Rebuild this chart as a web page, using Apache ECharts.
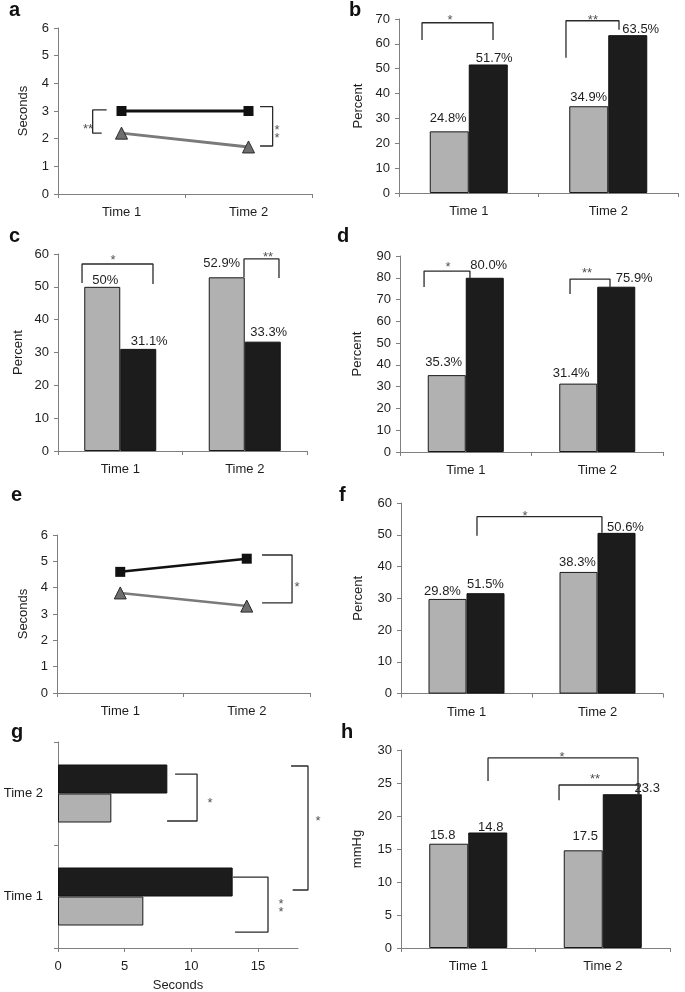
<!DOCTYPE html>
<html><head><meta charset="utf-8">
<script src="https://cdn.jsdelivr.net/npm/echarts@6/dist/echarts.min.js"></script>
<style>html,body{margin:0;padding:0;background:#fff}#c{width:685px;height:992px}</style>
</head><body><div id="c"></div>
<script>
// ---------- data ----------
const categories = ['Time 1', 'Time 2'];

// a
const aSquare = [3.0, 3.0];
const aTriangle = [2.2, 1.7];
const aBrackets = [
  [[0.383, 3.04], [0.273, 3.04], [0.273, 2.2], [0.344, 2.2]],
  [[1.591, 3.155], [1.69, 3.155], [1.69, 1.735], [1.591, 1.735]]
];
const aStars = [[0.236, 2.49, '**'], [1.724, 2.31, '*\n*']];

// b
const bGray = [24.8, 34.9];
const bBlack = [51.7, 63.5];
const bGrayText = ['24.8%', '34.9%'];
const bBlackText = ['51.7%', '63.5%'];
const bBrackets = [
  [[0.165, 61.6], [0.165, 68.5], [0.674, 68.5], [0.674, 61.6]],
  [[1.197, 54.4], [1.197, 69.3], [1.577, 69.3], [1.577, 65.7]]
];
const bStars = [[0.366, 70.9, '*'], [1.39, 70.9, '**']];

// c
const cGray = [50.0, 52.9];
const cBlack = [31.1, 33.3];
const cGrayText = ['50%', '52.9%'];
const cBlackText = ['31.1%', '33.3%'];
const cBrackets = [
  [[0.193, 51.2], [0.193, 56.96], [0.763, 56.96], [0.763, 50.9]],
  [[1.494, 53.0], [1.494, 58.5], [1.775, 58.5], [1.775, 52.7]]
];
const cStars = [[0.442, 59.3, '*'], [1.687, 60.2, '**']];

// d
const dGray = [35.3, 31.4];
const dBlack = [80.0, 75.9];
const dGrayText = ['35.3%', '31.4%'];
const dBlackText = ['80.0%', '75.9%'];
const dBrackets = [
  [[0.183, 75.8], [0.183, 83.1], [0.532, 83.1], [0.532, 79.9]],
  [[1.293, 72.5], [1.293, 79.4], [1.597, 79.4], [1.597, 75.8]]
];
const dStars = [[0.365, 86.8, '*'], [1.422, 84.0, '**']];

// e
const eSquare = [4.6, 5.1];
const eTriangle = [3.8, 3.3];
const eBrackets = [
  [[1.621, 5.24], [1.858, 5.24], [1.858, 3.42], [1.621, 3.42]]
];
const eStars = [[1.897, 4.18, '*']];

// f
const fGray = [29.8, 38.3];
const fBlack = [31.6, 50.6];
const fGrayText = ['29.8%', '38.3%'];
const fBlackText = ['51.5%', '50.6%'];
const fBrackets = [
  [[0.58, 49.7], [0.58, 55.7], [1.534, 55.7], [1.534, 50.6]]
];
const fStars = [[0.947, 56.9, '*']];

// g (horizontal)
const gGray = [6.4, 4.0];
const gBlack = [13.1, 8.2];
const gBrackets = [
  [[8.78, 1.689], [10.43, 1.689], [10.43, 1.233], [8.18, 1.233]],
  [[13.13, 0.689], [15.75, 0.689], [15.75, 0.155], [13.28, 0.155]],
  [[17.48, 1.767], [18.75, 1.767], [18.75, 0.563], [17.6, 0.563]]
];
const gStars = [[11.4, 1.447, '*'], [16.73, 0.42, '*\n*'], [19.5, 1.27, '*']];

// h
const hGray = [15.8, 14.8];
const hBlack = [17.5, 23.3];
const hGrayText = ['15.8', '17.5'];
const hBlackText = ['14.8', '23.3'];
const hBrackets = [
  [[0.647, 25.3], [0.647, 28.8], [1.762, 28.8], [1.762, 23.3]],
  [[1.175, 22.4], [1.175, 24.7], [1.77, 24.7], [1.77, 23.3]]
];
const hStars = [[1.197, 29.5, '*'], [1.442, 26.2, '**']];

// ---------- label nudges (style) ----------
const bGrayShift = [[-1, -1], [0, 3]], bBlackShift = [[6, 5], [13, 6]];
const cGrayShift = [[3, 5], [-5, -2]], cBlackShift = [[11, 4], [6, 2]];
const dGrayShift = [[-3, -1], [-7, 1]], dBlackShift = [[4, -1], [18, 3]];
const fGrayShift = [[-5, 4], [-1, 2]], fBlackShift = [[0, 3], [9, 6]];
const hGrayShift = [[-6, 3], [2, -2]], hBlackShift = [[3, 6], [25, 6]];

// ---------- styles ----------
const FONT = 'Liberation Sans, Arial, Helvetica, sans-serif';
const AX = '#7f7f7f';
const TXT = '#1e1e1e';
const GRAY = '#b1b1b1';
const BLACK = '#1c1c1c';

const grids = [], xAxes = [], yAxes = [], series = [];

function axisBase() {
  return {
    axisLine: { show: true, lineStyle: { color: AX, width: 1 } },
    axisTick: { show: true, length: 4, lineStyle: { color: AX, width: 1 } },
    axisLabel: { color: TXT, fontSize: 13, fontFamily: FONT },
    splitLine: { show: false }
  };
}
function valueAxis(gi, max, interval, name, nameGap, extra) {
  const a = Object.assign(axisBase(), {
    type: 'value', gridIndex: gi, min: 0, max: max, interval: interval,
    name: name, nameLocation: 'middle', nameGap: nameGap,
    nameTextStyle: { color: TXT, fontSize: 13, fontFamily: FONT }
  });
  a.axisLabel.margin = 9;
  return Object.assign(a, extra || {});
}
function catAxis(gi, extra) {
  const a = Object.assign(axisBase(), { type: 'category', gridIndex: gi, data: categories });
  a.axisLabel.margin = 12;
  return Object.assign(a, extra || {});
}
function addBrackets(xi, yi, brackets, stars) {
  brackets.forEach(b => series.push({
    type: 'line', xAxisIndex: xi, yAxisIndex: yi, data: b, symbol: 'none',
    lineStyle: { color: '#2a2a2a', width: 1.3 }, clip: false, silent: true, z: 10
  }));
  series.push({
    type: 'scatter', xAxisIndex: xi, yAxisIndex: yi, symbolSize: 0, clip: false, silent: true, z: 11,
    itemStyle: { color: 'transparent' },
    data: stars.map(s => ({ value: [s[0], s[1]], label: { formatter: s[2] } })),
    label: { show: true, position: 'inside', color: TXT, fontSize: 13, fontFamily: FONT, offset: [0, 4], lineHeight: 8 }
  });
}
function barItems(vals, texts, shifts) {
  return vals.map((v, i) => ({ value: v, label: { formatter: texts[i], offset: shifts[i] } }));
}
function barPanel(grid, yMax, yInt, yName, nameGap, gray, black, gt, bt, gs, bs, barW, brackets, stars) {
  grids.push(Object.assign({ containLabel: false, outerBoundsMode: 'none' }, grid));
  const gi = grids.length - 1;
  xAxes.push(catAxis(gi));
  const xi = xAxes.length - 1;
  xAxes.push({ type: 'value', gridIndex: gi, min: 0, max: 2, show: false });
  const hx = xAxes.length - 1;
  yAxes.push(valueAxis(gi, yMax, yInt, yName, nameGap));
  const yi = yAxes.length - 1;
  const lab = { show: true, position: 'top', distance: 5, color: TXT, fontSize: 13, fontFamily: FONT };
  series.push({ type: 'bar', xAxisIndex: xi, yAxisIndex: yi, barWidth: barW, barGap: '0%',
    itemStyle: { color: GRAY, borderColor: '#1a1a1a', borderWidth: 1 }, label: lab,
    data: barItems(gray, gt, gs) });
  series.push({ type: 'bar', xAxisIndex: xi, yAxisIndex: yi, barWidth: barW, barGap: '0%',
    itemStyle: { color: BLACK, borderColor: '#111', borderWidth: 1 }, label: lab,
    data: barItems(black, bt, bs) });
  addBrackets(hx, yi, brackets, stars);
}
function linePanel(grid, sq, tri, nameGap, lw, brackets, stars) {
  grids.push(Object.assign({ containLabel: false, outerBoundsMode: 'none' }, grid));
  const gi = grids.length - 1;
  xAxes.push(catAxis(gi));
  const xi = xAxes.length - 1;
  xAxes.push({ type: 'value', gridIndex: gi, min: 0, max: 2, show: false });
  const hx = xAxes.length - 1;
  yAxes.push(valueAxis(gi, 6, 1, 'Seconds', nameGap));
  const yi = yAxes.length - 1;
  series.push({ type: 'line', xAxisIndex: xi, yAxisIndex: yi, data: sq, symbol: 'rect', symbolSize: 10,
    lineStyle: { color: '#111', width: lw }, itemStyle: { color: '#111' }, z: 3 });
  series.push({ type: 'line', xAxisIndex: xi, yAxisIndex: yi, data: tri, symbol: 'triangle', symbolSize: 12,
    lineStyle: { color: '#7a7a7a', width: lw }, itemStyle: { color: '#6e6e6e', borderColor: '#2a2a2a', borderWidth: 1 }, z: 3 });
  addBrackets(hx, yi, brackets, stars);
}

// a
linePanel({ left: 58, top: 28, width: 254, height: 166 }, aSquare, aTriangle, 28, 3, aBrackets, aStars);
// b
barPanel({ left: 399, top: 19, width: 279, height: 174 }, 70, 10, 'Percent', 34,
  bGray, bBlack, bGrayText, bBlackText, bGrayShift, bBlackShift, 39, bBrackets, bStars);
// c
barPanel({ left: 58, top: 254, width: 249, height: 197 }, 60, 10, 'Percent', 33,
  cGray, cBlack, cGrayText, cBlackText, cGrayShift, cBlackShift, 36, cBrackets, cStars);
// d
barPanel({ left: 400, top: 256, width: 263, height: 196 }, 90, 10, 'Percent', 36,
  dGray, dBlack, dGrayText, dBlackText, dGrayShift, dBlackShift, 38, dBrackets, dStars);
// e
linePanel({ left: 57, top: 535, width: 253, height: 158 }, eSquare, eTriangle, 27, 2.5, eBrackets, eStars);
// f
barPanel({ left: 401, top: 503, width: 262, height: 190.6 }, 60, 10, 'Percent', 36,
  fGray, fBlack, fGrayText, fBlackText, fGrayShift, fBlackShift, 38, fBrackets, fStars);

// g (horizontal)
(function () {
  const G = { left: 58, top: 742, width: 240, height: 206 };
  grids.push(Object.assign({ containLabel: false, outerBoundsMode: 'none' }, G));
  const gi = grids.length - 1;
  const xa = valueAxis(gi, 18, 5, 'Seconds', 31);
  xa.axisLabel.margin = 12;
  xa.axisLabel.showMaxLabel = false;
  xAxes.push(xa);
  const xi = xAxes.length - 1;
  const ya = catAxis(gi);
  ya.axisLabel.margin = 15;
  yAxes.push(ya);
  const yi = yAxes.length - 1;
  // black first so it sits above the grey bar in each band
  series.push({ type: 'bar', xAxisIndex: xi, yAxisIndex: yi, barWidth: 29, barGap: '0%',
    itemStyle: { color: BLACK, borderColor: '#111', borderWidth: 1 }, data: gBlack });
  series.push({ type: 'bar', xAxisIndex: xi, yAxisIndex: yi, barWidth: 29, barGap: '0%',
    itemStyle: { color: GRAY, borderColor: '#1a1a1a', borderWidth: 1 }, data: gGray });
  // overlay grid (same scale, wider range) for the annotations
  grids.push({ left: G.left, top: G.top, width: G.width * 21 / 18, height: G.height, containLabel: false, outerBoundsMode: 'none' });
  const oi = grids.length - 1;
  xAxes.push({ type: 'value', gridIndex: oi, min: 0, max: 21, show: false });
  const ox = xAxes.length - 1;
  yAxes.push({ type: 'value', gridIndex: oi, min: 0, max: 2, show: false });
  const oy = yAxes.length - 1;
  addBrackets(ox, oy, gBrackets, gStars);
})();

// h
barPanel({ left: 401, top: 750, width: 269, height: 198 }, 30, 5, 'mmHg', 37,
  hGray, hBlack, hGrayText, hBlackText, hGrayShift, hBlackShift, 39, hBrackets, hStars);

const letters = [['a', 9, 0], ['b', 349, 0], ['c', 9, 226], ['d', 337, 226],
                 ['e', 11, 485], ['f', 339, 485], ['g', 11, 722], ['h', 341, 722]];

const chart = echarts.init(document.getElementById('c'), null, { renderer: 'canvas' });
chart.setOption({
  animation: false,
  backgroundColor: '#fff',
  textStyle: { fontFamily: FONT },
  grid: grids,
  xAxis: xAxes,
  yAxis: yAxes,
  series: series,
  graphic: letters.map(l => ({
    type: 'text', left: l[1], top: l[2], silent: true,
    style: { text: l[0], font: 'bold 20px ' + FONT, fill: '#111' }
  }))
});
</script></body></html>
